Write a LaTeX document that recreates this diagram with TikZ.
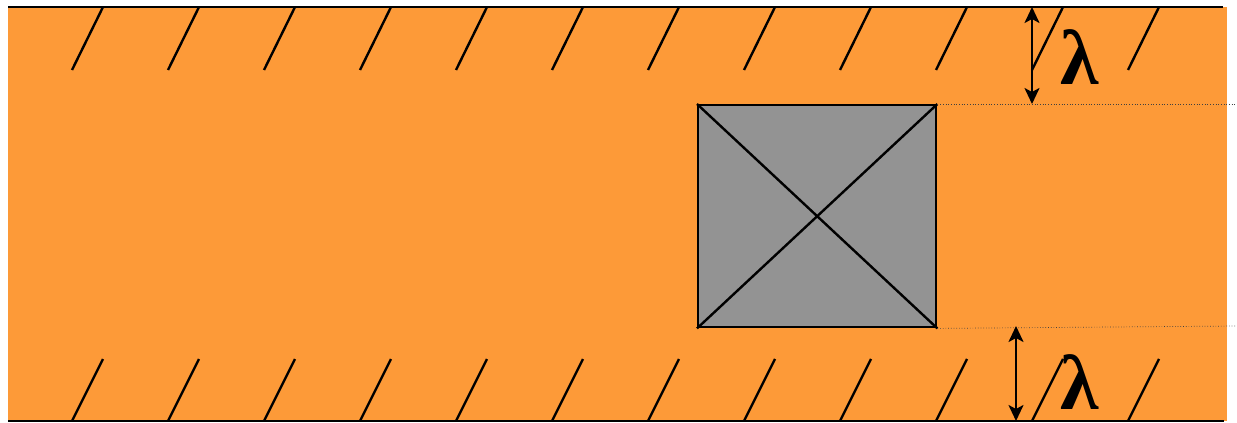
\documentclass[tikz,border=0pt]{standalone}
\usepackage{fontspec}
\newfontfamily\lamfont{Liberation Serif}
\usetikzlibrary{arrows.meta}
\definecolor{bandorange}{HTML}{FD9A38}
\definecolor{blockgray}{HTML}{939393}

\begin{document}
\begin{tikzpicture}[
  x=1pt,
  y=-1pt,
  line join=round,
  wall/.style={draw=black,line width=2.6pt},
  hatch/.style={draw=black,line width=2.4pt},
  block/.style={draw=black,line width=2.4pt,fill=blockgray,inner sep=0pt},
  guide/.style={draw=black!75,line width=0.7pt,dotted},
  gap/.style={draw=black,line width=2.4pt,{Stealth[length=16pt,width=15pt,inset=4pt]}-{Stealth[length=16pt,width=15pt,inset=4pt]}},
  lam/.style={font=\lamfont\bfseries\fontsize{78}{78}\selectfont,inner sep=0pt}
]
  % Match the artwork frame.
  \useasboundingbox (0,0) rectangle (1237,423);

  % Orange channel between the two walls.
  \fill[bandorange] (8,7) rectangle (1227,421);
  \draw[wall] (8,7) -- (1223,7);
  \draw[wall] (8,421) -- (1224,421);

  % Wall hatching, top and bottom rows.
  \foreach \i in {0,...,11} {
    \draw[hatch] ({103+96*\i},7) -- ({72+96*\i},70);
    \draw[hatch] ({103+96*\i},359) -- ({72+96*\i},421);
  }

  % Grey block with its cross.
  \node[block,anchor=north west,minimum width=238pt,minimum height=222pt] (obj) at (697,104) {};
  \draw[hatch] (obj.north west) -- (obj.south east);
  \draw[hatch] (obj.south west) -- (obj.north east);

  % Dotted guides from the block corners.
  \coordinate (gtop) at (1237,104);
  \coordinate (gbot) at (1237,326);
  \draw[guide] (obj.north east) -- (gtop);
  \draw[guide] (obj.south east) -- (gbot);

  % Gap arrows and their labels.
  \coordinate (ta) at (1032,7);
  \coordinate (tb) at (1032,104);
  \coordinate (ba) at (1016,326);
  \coordinate (bb) at (1016,421);
  \draw[gap] (ta) -- (tb);
  \draw[gap] (ba) -- (bb);
  \node[lam] (lamtop) at (1080,57) {λ};
  \node[lam] (lambot) at (1080,382) {λ};
\end{tikzpicture}
\end{document}
